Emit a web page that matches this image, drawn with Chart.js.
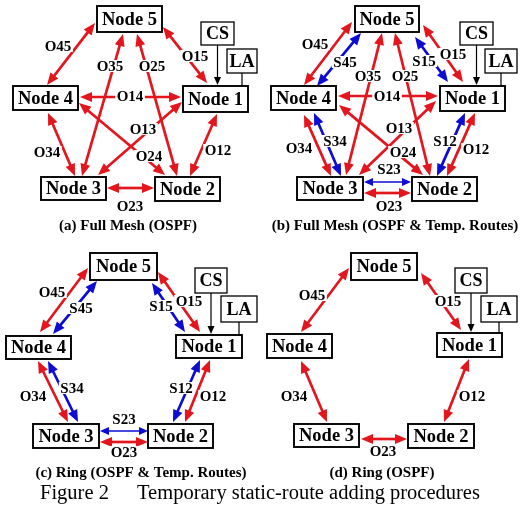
<!DOCTYPE html>
<html>
<head>
<meta charset="utf-8">
<script src="https://cdn.jsdelivr.net/npm/chart.js@4.4.1/dist/chart.umd.min.js"></script>
<style>
  html, body { margin: 0; padding: 0; background: #fff; }
  canvas { display: block; }
</style>
</head>
<body>
<canvas id="fig" width="528" height="506"></canvas>
<script>
// NODE BOXES per panel: [label, left, top, right, bottom]
const nodesA = [
  ["Node 5", 97, 6, 162, 32], ["Node 4", 13, 86, 78, 110], ["Node 1", 183, 86, 248, 112],
  ["Node 3", 41, 177, 106, 200], ["Node 2", 155, 177, 220, 201],
];
const nodesB = [
  ["Node 5", 355, 6, 419, 32], ["Node 4", 271, 86, 336, 110], ["Node 1", 440, 86, 505, 111],
  ["Node 3", 297, 177, 363, 200], ["Node 2", 412, 177, 477, 201],
];
const nodesC = [
  ["Node 5", 90, 253, 157, 280], ["Node 4", 6, 336, 71, 359], ["Node 1", 176, 335, 242, 358],
  ["Node 3", 33, 424, 99, 448], ["Node 2", 148, 424, 213, 448],
];
const nodesD = [
  ["Node 5", 351, 253, 417, 280], ["Node 4", 267, 334, 332, 358], ["Node 1", 437, 333, 502, 357],
  ["Node 3", 294, 424, 359, 447], ["Node 2", 408, 424, 474, 448],
];

// CS / LA boxes per panel, and the Node 1 top they connect to
const sideBoxes = [
  { cs: [201, 22, 234, 45], la: [227, 49, 257, 73], n1Top: 86 },
  { cs: [460, 22, 493, 45], la: [485, 49, 517, 73], n1Top: 86 },
  { cs: [195, 268, 227, 293], la: [221, 296, 257, 322], n1Top: 335 },
  { cs: [455, 268, 487, 293], la: [481, 296, 517, 322], n1Top: 333 },
];

// LINKS: [label, x1, y1, x2, y2, kind, labelX, labelY]
// kind: "O" OSPF route (red), "S" temp static route (blue), "s" thin static route
const linksA = [
  ["O45", 47, 85, 95, 23, "O", 58, 46],
  ["O35", 82, 176, 123, 34, "O", 110, 66],
  ["O25", 137, 34, 177, 176, "O", 152, 66],
  ["O15", 163, 27, 207, 83, "O", 195, 56],
  ["O14", 80, 97, 181, 97, "O", 130, 96],
  ["O13", 98, 175, 182, 102, "O", 143, 129],
  ["O24", 79, 103, 165, 175, "O", 149, 156],
  ["O34", 48, 113, 75, 176, "O", 47, 152],
  ["O12", 190, 176, 217, 114, "O", 218, 150],
  ["O23", 107, 188, 154, 188, "O", 130, 206],
];
const linksB = [
  ["O45", 304, 85, 352, 22, "O", 315, 44],
  ["S45", 317, 86, 361, 33, "S", 345, 62],
  ["O35", 346, 175, 382, 33, "O", 368, 76],
  ["O25", 395, 33, 430, 176, "O", 405, 76],
  ["O15", 423, 25, 463, 82, "O", 453, 54],
  ["S15", 415, 37, 448, 82, "S", 424, 61],
  ["O14", 338, 96, 438, 96, "O", 387, 96],
  ["O13", 359, 175, 436, 101, "O", 399, 128],
  ["O24", 339, 105, 423, 175, "O", 403, 152],
  ["O34", 304, 115, 331, 176, "O", 299, 148],
  ["S34", 314, 113, 341, 176, "S", 335, 141],
  ["S12", 437, 176, 465, 113, "S", 445, 141],
  ["O12", 447, 176, 475, 113, "O", 476, 149],
  ["S23", 364, 182, 411, 182, "s", 389, 169],
  ["O23", 364, 193, 411, 193, "O", 389, 206],
];
const linksC = [
  ["O45", 40, 332, 88, 268, "O", 52, 292],
  ["S45", 53, 334, 97, 281, "S", 81, 308],
  ["O15", 158, 272, 200, 332, "O", 189, 301],
  ["S15", 152, 283, 185, 332, "S", 161, 306],
  ["O34", 38, 361, 68, 422, "O", 33, 396],
  ["S34", 48, 361, 78, 422, "S", 72, 388],
  ["S12", 173, 422, 200, 360, "S", 181, 388],
  ["O12", 185, 422, 210, 360, "O", 213, 396],
  ["S23", 100, 431, 148, 431, "s", 124, 419],
  ["O23", 100, 442, 148, 442, "O", 124, 452],
];
const linksD = [
  ["O45", 301, 332, 349, 268, "O", 312, 295],
  ["O15", 421, 273, 461, 330, "O", 448, 301],
  ["O34", 301, 361, 327, 422, "O", 294, 396],
  ["O12", 444, 422, 469, 359, "O", 472, 396],
  ["O23", 361, 439, 407, 439, "O", 383, 451],
];

const captions = [
  ["(a) Full Mesh (OSPF)", 128, 226],
  ["(b) Full Mesh (OSPF & Temp. Routes)", 395, 226],
  ["(c) Ring (OSPF & Temp. Routes)", 141, 473],
  ["(d) Ring (OSPF)", 382, 473],
];
const titleParts = [["Figure 2", 40, 494], ["Temporary static-route adding procedures", 137, 494]];

const SERIF = '"Liberation Serif", "Times New Roman", serif';
const COLORS = { O: "#e3161e", S: "#0c0cd2", s: "#0c0cd2" };

function head(ctx, tx, ty, ux, uy, len, half) {
  ctx.beginPath();
  ctx.moveTo(tx, ty);
  ctx.lineTo(tx - ux * len - uy * half, ty - uy * len + ux * half);
  ctx.lineTo(tx - ux * len + uy * half, ty - uy * len - ux * half);
  ctx.closePath();
  ctx.fill();
}

function drawLink(ctx, x1, y1, x2, y2, color, width, len, half) {
  const dx = x2 - x1, dy = y2 - y1;
  const d = Math.hypot(dx, dy);
  const ux = dx / d, uy = dy / d;
  ctx.strokeStyle = color;
  ctx.fillStyle = color;
  ctx.lineWidth = width;
  ctx.beginPath();
  ctx.moveTo(x1 + ux * (len - 2), y1 + uy * (len - 2));
  ctx.lineTo(x2 - ux * (len - 2), y2 - uy * (len - 2));
  ctx.stroke();
  head(ctx, x2, y2, ux, uy, len, half);
  head(ctx, x1, y1, -ux, -uy, len, half);
}

const diagram = {
  id: "diagram",
  afterDraw(chart) {
    const { ctx } = chart;
    const sx = chart.scales.x, sy = chart.scales.y;
    const px = (v) => sx.getPixelForValue(v);
    const py = (v) => sy.getPixelForValue(v);
    ctx.save();
    ctx.textAlign = "center";
    ctx.textBaseline = "middle";

    // arrows
    [linksA, linksB, linksC, linksD].forEach((links) => {
      links.forEach((l) => {
        const thin = l[5] === "s";
        drawLink(ctx, px(l[1]), py(l[2]), px(l[3]), py(l[4]), COLORS[l[5]],
          thin ? 1.4 : 2.7, thin ? 9 : 12, thin ? 4 : 5);
      });
    });

    // link labels, white backing breaks the lines
    ctx.font = "bold 15px " + SERIF;
    [linksA, linksB, linksC, linksD].forEach((links) => {
      links.forEach((l) => {
        const x = px(l[6]), y = py(l[7]);
        const w = ctx.measureText(l[0]).width;
        ctx.fillStyle = "#fff";
        ctx.fillRect(x - w / 2 - 1.5, y - 6, w + 3, 12);
        ctx.fillStyle = "#000";
        ctx.fillText(l[0], x, y + 1);
      });
    });

    // CS / LA with their connections to Node 1
    sideBoxes.forEach((s) => {
      const cx = px((s.cs[0] + s.cs[2]) / 2);
      const lx = px((s.la[0] + s.la[2]) / 2);
      ctx.strokeStyle = "#000";
      ctx.fillStyle = "#000";
      ctx.lineWidth = 1.2;
      ctx.beginPath();
      ctx.moveTo(cx, py(s.cs[3]));
      ctx.lineTo(cx, py(s.n1Top) - 6);
      ctx.moveTo(lx, py(s.la[3]));
      ctx.lineTo(lx, py(s.n1Top));
      ctx.stroke();
      head(ctx, cx, py(s.n1Top) - 1, 0, 1, 8, 3.5);
      [["CS", s.cs], ["LA", s.la]].forEach(([t, b]) => {
        ctx.fillStyle = "#fff";
        ctx.fillRect(px(b[0]), py(b[1]), px(b[2]) - px(b[0]), py(b[3]) - py(b[1]));
        ctx.lineWidth = 1.3;
        ctx.strokeRect(px(b[0]), py(b[1]), px(b[2]) - px(b[0]), py(b[3]) - py(b[1]));
        ctx.fillStyle = "#000";
        ctx.font = "bold 18px " + SERIF;
        ctx.fillText(t, px((b[0] + b[2]) / 2), py((b[1] + b[3]) / 2) + 1);
      });
    });

    // node boxes
    ctx.font = "bold 18.5px " + SERIF;
    [nodesA, nodesB, nodesC, nodesD].forEach((nodes) => {
      nodes.forEach((n) => {
        const x0 = px(n[1]), y0 = py(n[2]), w = px(n[3]) - x0, h = py(n[4]) - y0;
        ctx.fillStyle = "#fff";
        ctx.fillRect(x0, y0, w, h);
        ctx.strokeStyle = "#000";
        ctx.lineWidth = 1.9;
        ctx.strokeRect(x0, y0, w, h);
        ctx.fillStyle = "#000";
        ctx.fillText(n[0], x0 + w / 2, y0 + h / 2 + 1);
      });
    });

    // captions
    ctx.font = "bold 15px " + SERIF;
    captions.forEach((c) => ctx.fillText(c[0], px(c[1]), py(c[2])));

    ctx.font = "20.5px " + SERIF;
    ctx.textAlign = "left";
    titleParts.forEach((t) => ctx.fillText(t[0], px(t[1]), py(t[2])));
    ctx.restore();
  },
};

new Chart(document.getElementById("fig"), {
  type: "scatter",
  data: { datasets: [] },
  options: {
    responsive: false,
    animation: false,
    events: [],
    layout: { padding: 0 },
    plugins: { legend: { display: false }, tooltip: { enabled: false } },
    scales: {
      x: { type: "linear", min: 0, max: 528, display: false },
      y: { type: "linear", min: 0, max: 506, reverse: true, display: false },
    },
  },
  plugins: [diagram],
});
</script>
</body>
</html>
